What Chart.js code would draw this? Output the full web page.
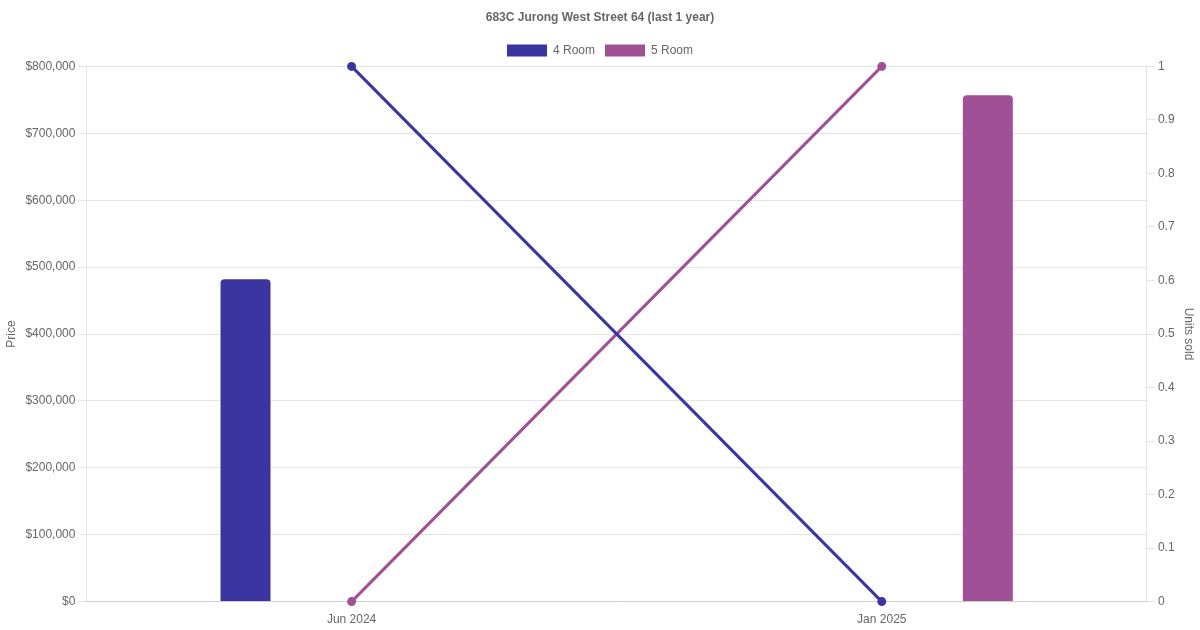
<!DOCTYPE html>
<html>
<head>
<meta charset="utf-8">
<script src="https://cdn.jsdelivr.net/npm/chart.js@4"></script>
<style>
  html, body { margin: 0; padding: 0; background: #fff; }
  #wrap { width: 1200px; height: 630px; }
</style>
</head>
<body>
<div id="wrap"><canvas id="chart"></canvas></div>
<script>
const months = ['Jun 2024', 'Jan 2025'];
const price4Room = [482000, null];
const price5Room = [null, 757000];
const units4Room = [1, 0];
const units5Room = [0, 1];

const color4 = '#3a35a0';
const color5 = '#a05094';

const ctx = document.getElementById('chart').getContext('2d');
new Chart(ctx, {
  type: 'bar',
  data: {
    labels: months,
    datasets: [
      {
        label: '4 Room',
        data: price4Room,
        backgroundColor: color4,
        borderColor: color4,
        borderRadius: 4,
        maxBarThickness: 50,
        yAxisID: 'y',
        order: 2
      },
      {
        label: '5 Room',
        data: price5Room,
        backgroundColor: color5,
        borderColor: color5,
        borderRadius: 4,
        maxBarThickness: 50,
        yAxisID: 'y',
        order: 2
      },
      {
        type: 'line',
        label: '4 Room units',
        data: units4Room,
        borderColor: color4,
        backgroundColor: color4,
        borderWidth: 3,
        pointRadius: 3,
        clip: false,
        yAxisID: 'y1',
        order: 1
      },
      {
        type: 'line',
        label: '5 Room units',
        data: units5Room,
        borderColor: color5,
        backgroundColor: color5,
        borderWidth: 3,
        pointRadius: 3,
        clip: false,
        yAxisID: 'y1',
        order: 1
      }
    ]
  },
  options: {
    responsive: true,
    maintainAspectRatio: false,
    animation: false,
    plugins: {
      title: {
        display: true,
        text: '683C Jurong West Street 64 (last 1 year)',
        color: '#666'
      },
      legend: {
        labels: {
          color: '#666',
          filter: item => item.datasetIndex < 2
        }
      }
    },
    scales: {
      x: {
        grid: { display: false },
        ticks: { color: '#666' }
      },
      y: {
        position: 'left',
        min: 0,
        max: 800000,
        title: { display: true, text: 'Price', color: '#666' },
        ticks: {
          stepSize: 100000,
          color: '#666',
          callback: v => '$' + v.toLocaleString('en-US')
        }
      },
      y1: {
        position: 'right',
        min: 0,
        max: 1,
        title: { display: true, text: 'Units sold', color: '#666' },
        grid: { drawOnChartArea: false },
        ticks: {
          stepSize: 0.1,
          color: '#666',
          callback: v => String(Math.round(v * 10) / 10)
        }
      }
    }
  }
});
</script>
</body>
</html>
